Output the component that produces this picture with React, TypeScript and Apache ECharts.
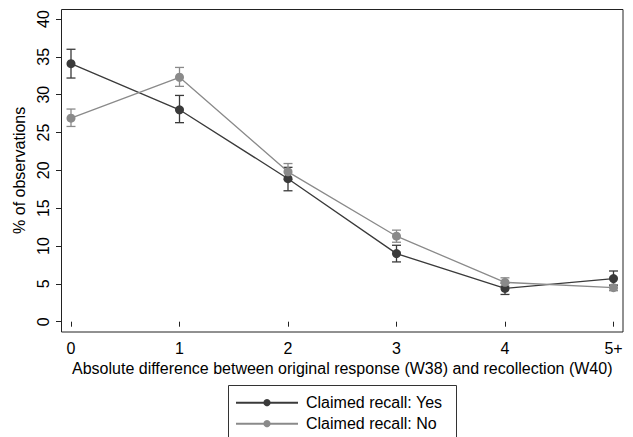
import React, { useEffect, useRef } from "react";
import * as echarts from "echarts";

const categories = ["0", "1", "2", "3", "4", "5+"];
const yesValues = [34.1, 28.0, 18.9, 9.0, 4.4, 5.7];
const yesLower = [32.2, 26.3, 17.3, 7.9, 3.6, 4.8];
const yesUpper = [36.0, 29.9, 20.4, 10.1, 5.1, 6.7];
const noValues = [26.9, 32.3, 19.8, 11.3, 5.2, 4.5];
const noLower = [25.8, 31.1, 18.8, 10.5, 4.7, 4.1];
const noUpper = [28.1, 33.6, 20.9, 12.1, 5.8, 4.9];

const YES = "Claimed recall: Yes";
const NO = "Claimed recall: No";
const DARK = "#3a3a3a";
const GRAY = "#8a8a8a";
const FONT = "Liberation Sans, Arial, sans-serif";
const FS = 16;

function errorSeries(name: string, lower: number[], upper: number[], color: string) {
  return {
    type: "custom",
    name,
    silent: true,
    data: categories.map((c, i) => [i, lower[i], upper[i]]),
    renderItem: (params: any, api: any) => {
      const x = api.value(0);
      const lo = api.coord([x, api.value(1)]);
      const hi = api.coord([x, api.value(2)]);
      const half = 4.5;
      const style = { stroke: color, lineWidth: 1.3 };
      return {
        type: "group",
        children: [
          { type: "line", shape: { x1: lo[0], y1: lo[1], x2: hi[0], y2: hi[1] }, style },
          { type: "line", shape: { x1: lo[0] - half, y1: lo[1], x2: lo[0] + half, y2: lo[1] }, style },
          { type: "line", shape: { x1: hi[0] - half, y1: hi[1], x2: hi[0] + half, y2: hi[1] }, style },
        ],
      };
    },
    z: 1,
  };
}

export default function App() {
  const ref = useRef<HTMLDivElement>(null);
  useEffect(() => {
    if (!ref.current) return;
    const chart = echarts.init(ref.current, null, { renderer: "svg" });
    chart.setOption({
      animation: false,
      backgroundColor: "#fff",
      textStyle: { fontFamily: FONT },
      grid: { left: 71, right: 19.5, top: 19, bottom: 115.3 },
      xAxis: {
        type: "category",
        data: categories,
        boundaryGap: false,
        offset: 10.3,
        axisLine: { show: false },
        axisTick: { show: true, length: 5, lineStyle: { color: "#222", width: 1 } },
        axisLabel: { fontSize: FS, color: "#000", margin: 8, fontFamily: FONT },
        splitLine: { show: false },
        name: "Absolute difference between original response (W38) and recollection (W40)",
        nameLocation: "middle",
        nameGap: 25,
        nameTextStyle: { fontSize: FS, color: "#000", fontFamily: FONT },
      },
      yAxis: {
        type: "value",
        min: 0,
        max: 40,
        interval: 5,
        offset: 10,
        axisLine: { show: false },
        axisTick: { show: true, length: 5, lineStyle: { color: "#222", width: 1 } },
        axisLabel: { fontSize: FS, color: "#000", rotate: 90, margin: 10, fontFamily: FONT },
        splitLine: { show: false },
        name: "% of observations",
        nameLocation: "middle",
        nameGap: 18,
        nameTextStyle: { fontSize: FS, color: "#000", fontFamily: FONT },
      },
      legend: {
        data: [YES, NO],
        orient: "vertical",
        left: 228,
        top: 385,
        padding: [9.7, 0, 0, 7],
        itemWidth: 62,
        itemHeight: 9,
        itemGap: 5,
        borderWidth: 0,
        textStyle: { fontSize: FS, color: "#000", fontFamily: FONT, padding: [0, 0, 0, 3] },
      },
      graphic: [
        {
          type: "rect",
          shape: { x: 61.5, y: 9.5, width: 561.5, height: 322.5 },
          style: { fill: "none", stroke: "#222", lineWidth: 1 },
          z: 0,
          silent: true,
        },
        {
          type: "rect",
          shape: { x: 228.5, y: 385.5, width: 228, height: 60 },
          style: { fill: "none", stroke: "#333", lineWidth: 1 },
          z: 0,
          silent: true,
        },
      ],
      series: [
        errorSeries("_yesErr", yesLower, yesUpper, DARK),
        errorSeries("_noErr", noLower, noUpper, GRAY),
        {
          type: "line",
          name: YES,
          data: yesValues,
          symbol: "circle",
          symbolSize: 9,
          itemStyle: { color: DARK },
          lineStyle: { color: DARK, width: 1.3 },
          z: 3,
        },
        {
          type: "line",
          name: NO,
          data: noValues,
          symbol: "circle",
          symbolSize: 9,
          itemStyle: { color: GRAY },
          lineStyle: { color: GRAY, width: 1.3 },
          z: 4,
        },
      ],
    });
    return () => chart.dispose();
  }, []);
  return <div ref={ref} style={{ width: 633, height: 437, position: "absolute", left: 0, top: 0 }} />;
}
